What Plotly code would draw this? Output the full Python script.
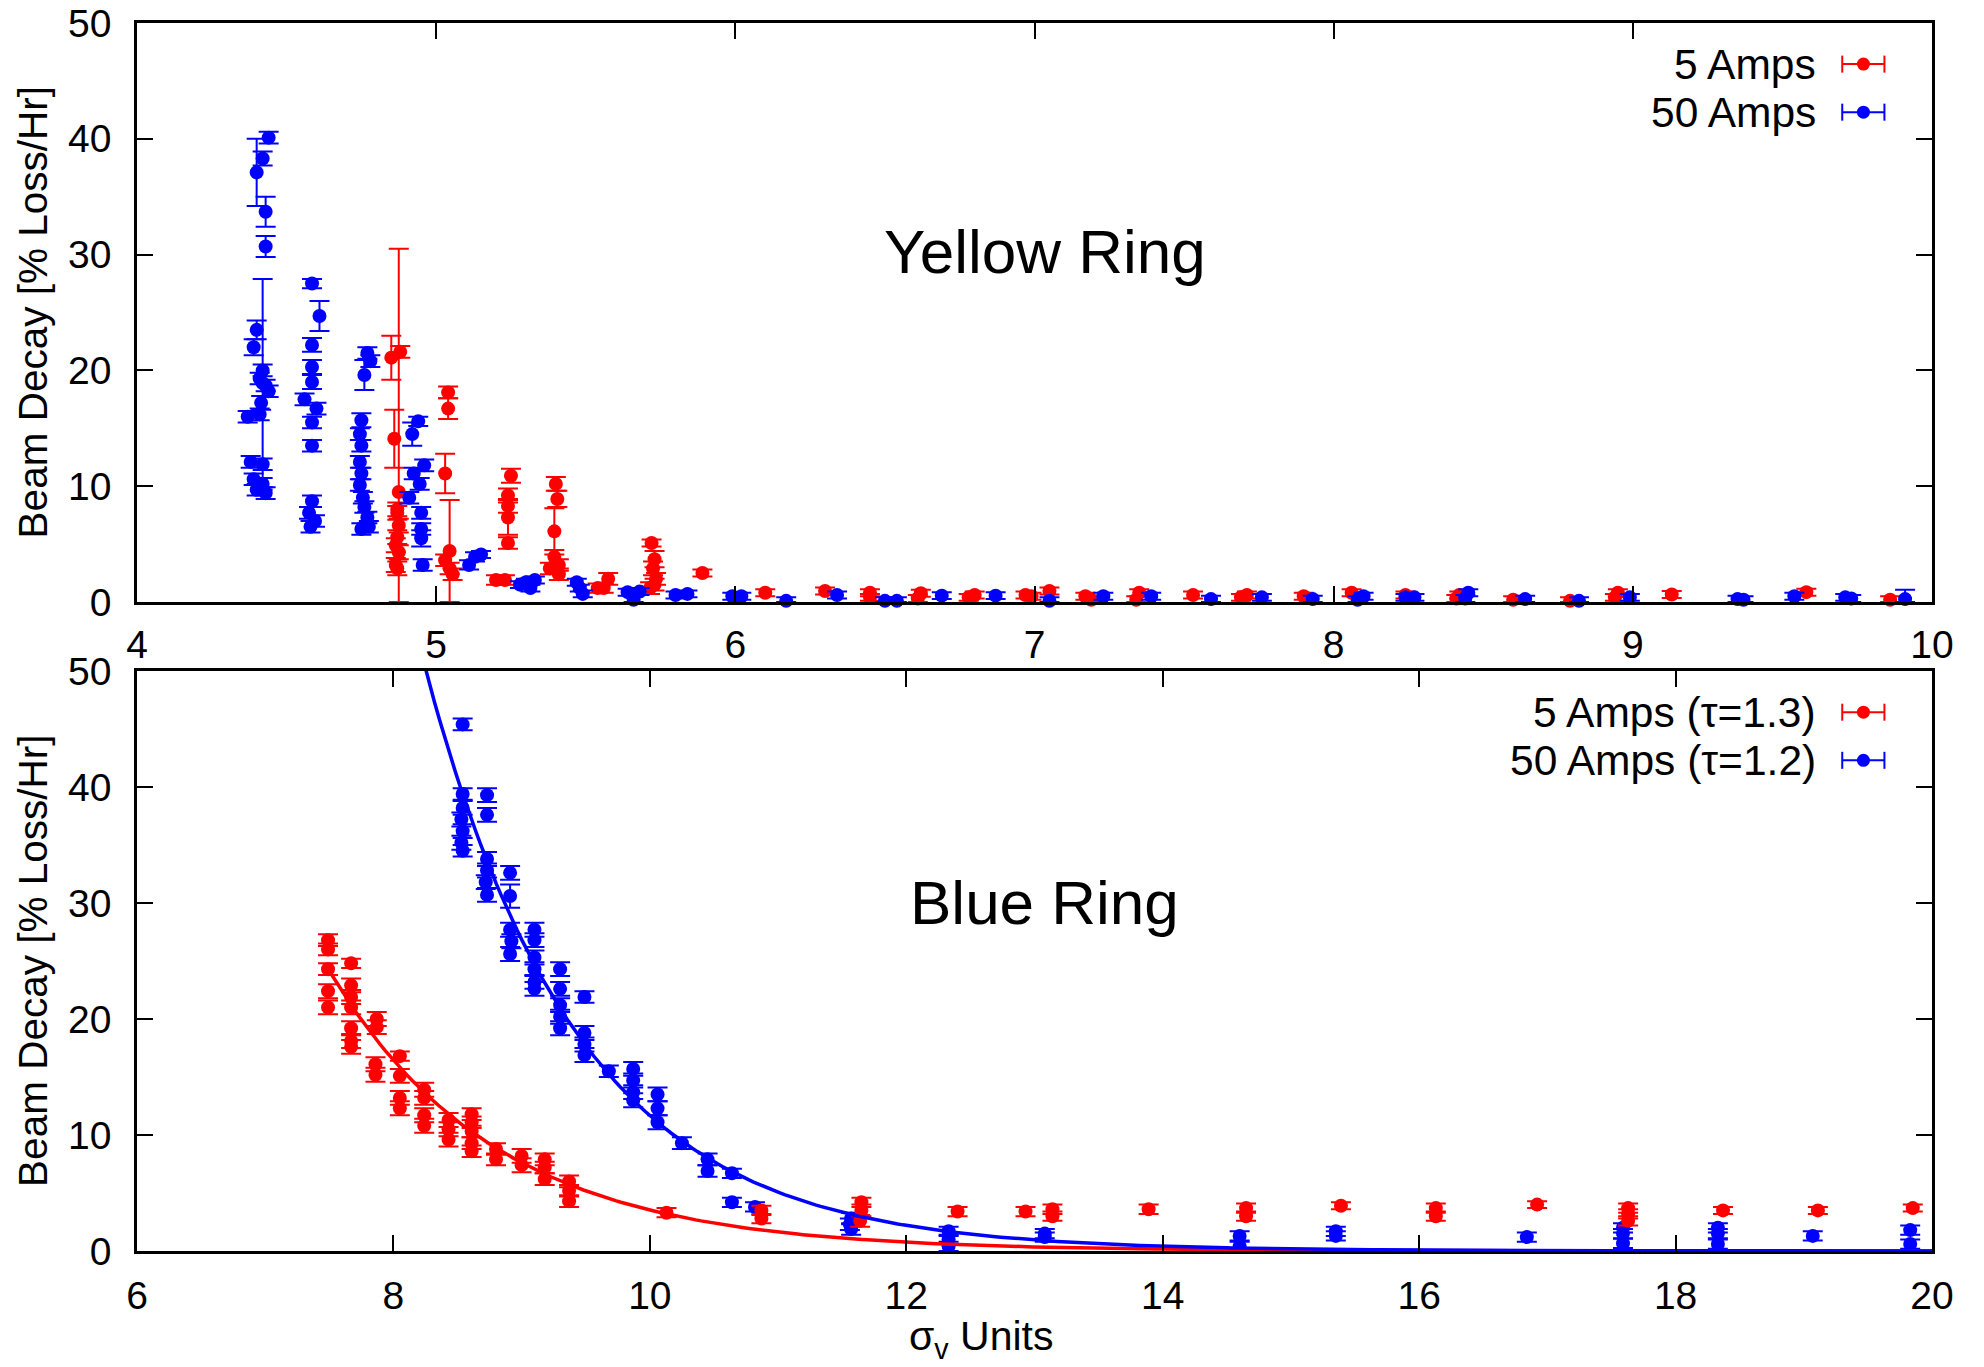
import plotly.graph_objects as go

# ---------------- Yellow Ring (top panel) ----------------
yel_5A_x = [4.85, 4.88, 4.875, 4.86, 4.87, 4.87, 4.875, 4.87, 4.865, 4.875, 4.865, 4.87,
            5.04, 5.04, 5.03, 5.045, 5.03, 5.055, 5.045,
            5.25, 5.24, 5.24, 5.24, 5.24, 5.23, 5.20,
            5.40, 5.405, 5.395, 5.395, 5.41, 5.38, 5.41,
            5.54, 5.56, 5.575,
            5.72, 5.73, 5.725, 5.735, 5.73, 5.715,
            5.89, 6.10, 6.30, 6.45, 6.45, 6.62, 6.61, 6.80, 6.78, 6.99, 6.97, 7.05,
            7.17, 7.19, 7.35, 7.34, 7.53, 7.71, 7.69, 7.90, 8.06, 8.24, 8.42, 8.41,
            8.60, 8.79, 8.95, 8.94, 9.13, 9.58, 9.86]
yel_5A_y = [21.1, 21.6, 9.5, 14.1, 8.0, 7.7, 6.6, 5.6, 4.9, 4.3, 3.2, 2.9,
            18.1, 16.7, 11.1, 4.4, 3.6, 2.4, 2.9,
            10.9, 9.2, 8.3, 7.3, 5.1, 1.9, 1.9,
            10.2, 8.9, 6.1, 3.9, 3.2, 2.9, 2.4,
            1.2, 1.2, 2.0,
            5.1, 3.7, 2.9, 2.0, 1.5, 1.2,
            2.5, 0.8, 0.95, 0.8, 0.4, 0.75, 0.3, 0.6, 0.4, 0.5, 0.6, 0.95,
            0.5, 0.2, 0.8, 0.2, 0.6, 0.6, 0.4, 0.5, 0.8, 0.6, 0.6, 0.3,
            0.2, 0.1, 0.8, 0.4, 0.65, 0.85, 0.2]
yel_5A_err = [1.9, 0.5, 21.0, 2.5, 0.6, 0.6, 0.6, 0.6, 0.6, 0.6, 0.6, 0.6,
              0.5, 0.9, 1.7, 4.4, 0.5, 0.5, 0.5,
              0.6, 0.6, 0.6, 1.5, 0.5, 0.4, 0.4,
              0.6, 0.7, 2.0, 0.6, 0.5, 0.5, 0.5,
              0.4, 0.4, 0.5,
              0.3, 0.7, 0.6, 0.5, 0.5, 0.5,
              0.3, 0.3, 0.3, 0.3, 0.3, 0.3, 0.3, 0.3, 0.3, 0.3, 0.3, 0.3,
              0.3, 0.3, 0.3, 0.3, 0.3, 0.3, 0.3, 0.3, 0.3, 0.3, 0.3, 0.3,
              0.3, 0.3, 0.3, 0.3, 0.3, 0.3, 0.3]

yel_50A_x = [4.44, 4.42, 4.40, 4.43, 4.43, 4.40, 4.39, 4.42, 4.42, 4.41, 4.43, 4.44, 4.415,
             4.37, 4.41, 4.38, 4.42, 4.39, 4.42, 4.40, 4.43,
             4.585, 4.61, 4.585, 4.585, 4.585, 4.56, 4.60, 4.585, 4.585, 4.585, 4.575, 4.595, 4.58,
             4.77, 4.78, 4.76, 4.75, 4.745, 4.75, 4.745, 4.75, 4.745, 4.755, 4.76, 4.77, 4.775, 4.75,
             4.94, 4.92, 4.96, 4.925, 4.945, 4.91, 4.95, 4.95, 4.95, 4.955,
             5.11, 5.13, 5.15, 5.28, 5.30, 5.33, 5.315, 5.47, 5.48, 5.49,
             5.64, 5.66, 5.68, 5.80, 5.84, 5.99, 6.02, 6.17, 6.34, 6.50, 6.54,
             6.69, 6.87, 7.05, 7.23, 7.39, 7.59, 7.76, 7.93, 8.10, 8.08, 8.27, 8.24,
             8.45, 8.44, 8.64, 8.82, 8.99, 9.35, 9.37, 9.54, 9.71, 9.73, 9.91]
yel_50A_y = [40.1, 38.3, 37.1, 33.7, 30.7, 23.5, 22.0, 18.9, 20.0, 19.3, 18.7, 18.2, 17.2,
             16.0, 16.2, 12.1, 11.9, 10.6, 10.2, 9.7, 9.4,
             27.5, 24.7, 22.2, 20.3, 19.0, 17.5, 16.7, 15.5, 13.5, 8.7, 7.7, 7.0, 6.5,
             21.5, 20.8, 19.6, 15.7, 14.5, 13.5, 12.1, 11.1, 10.1, 9.0, 8.2, 7.3, 6.5, 6.3,
             15.6, 14.5, 11.8, 11.1, 10.2, 9.0, 7.7, 6.3, 5.5, 3.2,
             3.2, 3.9, 4.1, 1.5, 1.7, 1.9, 1.2, 1.7, 1.2, 0.7,
             0.85, 0.2, 0.9, 0.6, 0.7, 0.5, 0.5, 0.1, 0.6, 0.1, 0.1,
             0.55, 0.55, 0.1, 0.5, 0.5, 0.25, 0.4, 0.25, 0.5, 0.2, 0.4, 0.4,
             0.8, 0.3, 0.25, 0.1, 0.4, 0.25, 0.2, 0.5, 0.4, 0.3, 0.25]
yel_50A_err = [0.5, 0.6, 2.9, 1.3, 0.9, 0.8, 0.7, 9.0, 0.5, 0.5, 0.5, 0.5, 0.6,
               0.5, 0.5, 0.5, 0.5, 0.5, 0.5, 0.5, 0.5,
               0.4, 1.3, 0.6, 0.6, 0.6, 0.5, 0.5, 0.5, 0.5, 0.5, 0.5, 0.5, 0.5,
               0.5, 0.5, 1.3, 0.6, 0.5, 0.5, 0.5, 0.5, 0.5, 0.5, 0.5, 0.5, 0.5, 0.5,
               0.4, 1.0, 0.5, 0.5, 0.5, 0.5, 0.5, 0.5, 0.7, 0.5,
               0.4, 0.4, 0.3, 0.3, 0.3, 0.3, 0.3, 0.3, 0.3, 0.3,
               0.3, 0.3, 0.3, 0.3, 0.3, 0.3, 0.3, 0.3, 0.3, 0.3, 0.3,
               0.3, 0.3, 0.3, 0.3, 0.3, 0.3, 0.3, 0.3, 0.3, 0.3, 0.3, 0.3,
               0.3, 0.3, 0.3, 0.3, 0.3, 0.3, 0.3, 0.3, 0.3, 0.3, 0.8]

# ---------------- Blue Ring (bottom panel) ----------------
blu_5A_x = [7.49, 7.49, 7.49, 7.49, 7.49,
            7.67, 7.67, 7.67, 7.67, 7.67, 7.67, 7.67,
            7.87, 7.87, 7.86, 7.86,
            8.05, 8.05, 8.05, 8.05,
            8.24, 8.24, 8.24, 8.24,
            8.43, 8.43, 8.43,
            8.61, 8.61, 8.61, 8.61, 8.61,
            8.80, 8.80, 9.00, 9.00, 9.18, 9.18, 9.18, 9.37, 9.37, 9.37,
            10.13, 10.87, 10.87, 11.65, 11.65, 11.64, 12.40, 12.93, 13.14, 13.14,
            13.89, 14.65, 14.65, 15.39, 16.13, 16.13, 16.92, 17.63, 17.63, 17.63,
            18.37, 19.11, 19.85]
blu_5A_y = [26.8, 26.0, 24.3, 22.4, 21.0,
            24.8, 22.9, 21.9, 21.0, 19.2, 18.1, 17.6,
            20.0, 19.3, 16.1, 15.2,
            16.8, 15.1, 13.2, 12.3,
            13.9, 13.2, 11.7, 10.8,
            11.3, 10.5, 9.6,
            11.8, 11.1, 10.3, 9.3, 8.6,
            8.8, 7.9, 8.2, 7.4, 7.9, 7.2, 6.2, 6.0, 5.2, 4.3,
            3.3, 3.5, 2.8, 4.2, 3.5, 2.6, 3.4, 3.4, 3.6, 3.0,
            3.6, 3.7, 3.0, 3.9, 3.7, 3.0, 4.0, 3.7, 2.6, 3.2,
            3.5, 3.5, 3.7]
blu_5A_err = [0.5, 0.5, 0.5, 0.6, 0.6,
              0.4, 0.6, 0.6, 0.6, 0.6, 0.6, 0.6,
              0.6, 0.6, 0.6, 0.6,
              0.4, 0.6, 0.6, 0.6,
              0.6, 0.6, 0.6, 0.6,
              0.6, 0.6, 0.6,
              0.5, 0.5, 0.5, 0.5, 0.5,
              0.5, 0.5, 0.6, 0.6, 0.5, 0.5, 0.5, 0.5, 0.5, 0.5,
              0.4, 0.4, 0.4, 0.4, 0.5, 0.5, 0.4, 0.4, 0.4, 0.4,
              0.4, 0.4, 0.4, 0.3, 0.4, 0.4, 0.3, 0.4, 0.4, 0.4,
              0.3, 0.3, 0.3]

blu_50A_x = [8.54, 8.54, 8.54, 8.53, 8.54, 8.53, 8.54,
             8.73, 8.73, 8.73, 8.73, 8.72, 8.73,
             8.91, 8.91, 8.91, 8.92, 8.91,
             9.10, 9.10, 9.10, 9.10, 9.10, 9.10,
             9.30, 9.30, 9.30, 9.30, 9.30,
             9.49, 9.49, 9.49, 9.49,
             9.68, 9.87, 9.87, 9.87, 9.87,
             10.06, 10.06, 10.06, 10.25, 10.45, 10.45, 10.64, 10.64, 10.82,
             11.57, 11.57, 11.56, 12.33, 12.33, 12.33, 13.08, 13.08,
             14.60, 14.60, 15.35, 15.35, 16.84, 17.59, 17.59, 17.59,
             18.33, 18.33, 18.33, 19.07, 19.83, 19.83]
blu_50A_y = [45.4, 39.4, 38.2, 37.2, 36.2, 35.2, 34.5,
             39.3, 37.6, 33.8, 32.8, 31.8, 30.7,
             32.6, 30.6, 27.7, 26.7, 25.6,
             27.7, 26.8, 25.3, 24.3, 23.2, 22.6,
             24.3, 22.6, 21.2, 20.2, 19.2,
             21.9, 18.8, 17.8, 16.9,
             15.5, 15.7, 14.7, 13.7, 13.0,
             13.5, 12.3, 11.1, 9.3, 7.9, 6.9, 6.7, 4.2, 3.8,
             2.8, 1.9, 2.3, 1.7, 0.4, 1.0, 1.5, 1.2,
             1.3, 0.4, 1.7, 1.3, 1.2, 2.0, 1.5, 0.65,
             2.0, 1.5, 0.6, 1.3, 1.8, 0.6]
blu_50A_err = [0.5, 0.5, 0.6, 0.6, 0.6, 0.6, 0.5,
               0.6, 0.6, 0.6, 0.6, 0.6, 0.6,
               0.6, 1.0, 0.6, 0.6, 0.6,
               0.6, 0.6, 0.6, 0.6, 0.6, 0.6,
               0.6, 0.6, 0.6, 0.6, 0.6,
               0.5, 0.6, 0.6, 0.6,
               0.5, 0.6, 0.6, 0.6, 0.6,
               0.6, 0.6, 0.6, 0.5, 0.5, 0.5, 0.4, 0.4, 0.4,
               0.5, 0.5, 0.5, 0.4, 0.4, 0.4, 0.4, 0.4,
               0.4, 0.4, 0.4, 0.4, 0.4, 0.4, 0.4, 0.4,
               0.4, 0.4, 0.4, 0.4, 0.4, 0.4]

# exponential fits: amplitude at reference x0, decay constant tau (from legend)
fit_5A = dict(amp=21.2, x0=7.67, tau=1.3, start=7.52)
fit_50A = dict(amp=39.4, x0=8.54, tau=1.2, start=8.0)

legend_top = ["5 Amps", "50 Amps"]
legend_bot = ["5 Amps (\u03c4=1.3)", "50 Amps (\u03c4=1.2)"]
panel_titles = ["Yellow Ring", "Blue Ring"]

RED = "#ff0000"
BLUE = "#0000ff"
FONT = "Liberation Sans, Arial, sans-serif"


def fit_curve(p, xmax=20.0, n=300):
    import math
    xs = [p["start"] + (xmax - p["start"]) * i / (n - 1) for i in range(n)]
    ys = [p["amp"] * math.exp(-(x - p["x0"]) / p["tau"]) for x in xs]
    return xs, ys


def data_trace(x, y, err, color, xa, ya):
    minus = [min(e, v) for e, v in zip(err, y)]
    return go.Scatter(
        x=x, y=y, mode="markers", xaxis=xa, yaxis=ya, showlegend=False,
        cliponaxis=False,
        marker=dict(color=color, size=14, line=dict(width=0)),
        error_y=dict(type="data", symmetric=False, array=err, arrayminus=minus,
                     color=color, thickness=2, width=10),
    )


fig = go.Figure()
# top panel
fig.add_trace(data_trace(yel_5A_x, yel_5A_y, yel_5A_err, RED, "x", "y"))
fig.add_trace(data_trace(yel_50A_x, yel_50A_y, yel_50A_err, BLUE, "x", "y"))
# bottom panel
fig.add_trace(data_trace(blu_50A_x, blu_50A_y, blu_50A_err, BLUE, "x2", "y2"))
fig.add_trace(data_trace(blu_5A_x, blu_5A_y, blu_5A_err, RED, "x2", "y2"))
fx, fy = fit_curve(fit_5A)
fig.add_trace(go.Scatter(x=fx, y=fy, mode="lines", xaxis="x2", yaxis="y2", showlegend=False,
                         line=dict(color=RED, width=3.5)))
fx, fy = fit_curve(fit_50A)
fig.add_trace(go.Scatter(x=fx, y=fy, mode="lines", xaxis="x2", yaxis="y2", showlegend=False,
                         line=dict(color=BLUE, width=3.5)))

axis_common = dict(
    showline=True, linecolor="black", linewidth=2.5, mirror="ticks",
    ticks="inside", ticklen=16, tickwidth=2, tickcolor="black",
    showgrid=False, zeroline=False, automargin=False, ticklabeloverflow="allow",
    tickfont=dict(family=FONT, size=39, color="black"),
)

# page body adds an 8px margin, so the figure is 8px smaller than the window
fig.update_layout(
    width=1976, height=1359,
    margin=dict(l=129, r=52, t=15, b=116, autoexpand=False),
    paper_bgcolor="white", plot_bgcolor="white",
    font=dict(family=FONT, color="black"),
    xaxis=dict(domain=[0, 1], anchor="y", range=[4, 10], dtick=1, tick0=0,
               ticklabelstandoff=6, **axis_common),
    yaxis=dict(domain=[0.5285, 1], anchor="x", range=[0, 50], dtick=10, tick0=0,
               ticklabelstandoff=15, **axis_common),
    xaxis2=dict(domain=[0, 1], anchor="y2", range=[6, 20], dtick=2, tick0=0,
                ticklabelstandoff=8, **axis_common),
    yaxis2=dict(domain=[0, 0.4723], anchor="x2", range=[0, 50], dtick=10, tick0=0,
                ticklabelstandoff=15, **axis_common),
)

annotations = []
shapes = []
# panel titles
for (xr, yr), txt, yy in [(("x domain", "y domain"), panel_titles[0], 0.6045),
                          (("x2 domain", "y2 domain"), panel_titles[1], 0.6017)]:
    annotations.append(dict(xref=xr, yref=yr, x=0.5058, y=yy, text=txt, showarrow=False,
                            xanchor="center", yanchor="middle",
                            font=dict(family=FONT, size=62, color="black")))
# y axis titles
for yr in ["y domain", "y2 domain"]:
    annotations.append(dict(xref="paper", yref=yr, x=-0.058, y=0.5, text="Beam Decay [% Loss/Hr]",
                            textangle=-90, showarrow=False, xanchor="center", yanchor="middle",
                            font=dict(family=FONT, size=40.5, color="black")))
# x axis title (bottom)
annotations.append(dict(xref="x2 domain", yref="y2 domain", x=0.470, y=-0.152,
                        text="\u03c3<sub>v</sub> Units", showarrow=False,
                        xanchor="center", yanchor="middle",
                        font=dict(family=FONT, size=41, color="black")))

# custom gnuplot-style keys: right-aligned text then an errorbar sample
rows_y = [0.929, 0.846]
for (xr, yr, ph), labels in [(("x domain", "y domain", 579), legend_top),
                             (("x2 domain", "y2 domain", 580), legend_bot)]:
    for lab, ry, col in zip(labels, rows_y, [RED, BLUE]):
        annotations.append(dict(xref=xr, yref=yr, x=0.9365, y=ry, text=lab, showarrow=False,
                                xanchor="right", yanchor="middle",
                                font=dict(family=FONT, size=42.5, color="black")))
        x0, x1, xc = 0.950, 0.9735, 0.9618
        cap = 8.5 / ph
        shapes.append(dict(type="line", xref=xr, yref=yr, x0=x0, x1=x1, y0=ry, y1=ry,
                           line=dict(color=col, width=2)))
        for xe in (x0, x1):
            shapes.append(dict(type="line", xref=xr, yref=yr, x0=xe, x1=xe, y0=ry - cap,
                               y1=ry + cap, line=dict(color=col, width=2)))
        rx = 6.5 / 1795
        ryy = 6.5 / ph
        shapes.append(dict(type="circle", xref=xr, yref=yr, x0=xc - rx, x1=xc + rx,
                           y0=ry - ryy, y1=ry + ryy, fillcolor=col, line=dict(width=0)))

fig.update_layout(annotations=annotations, shapes=shapes)
fig.write_html("out.html")
